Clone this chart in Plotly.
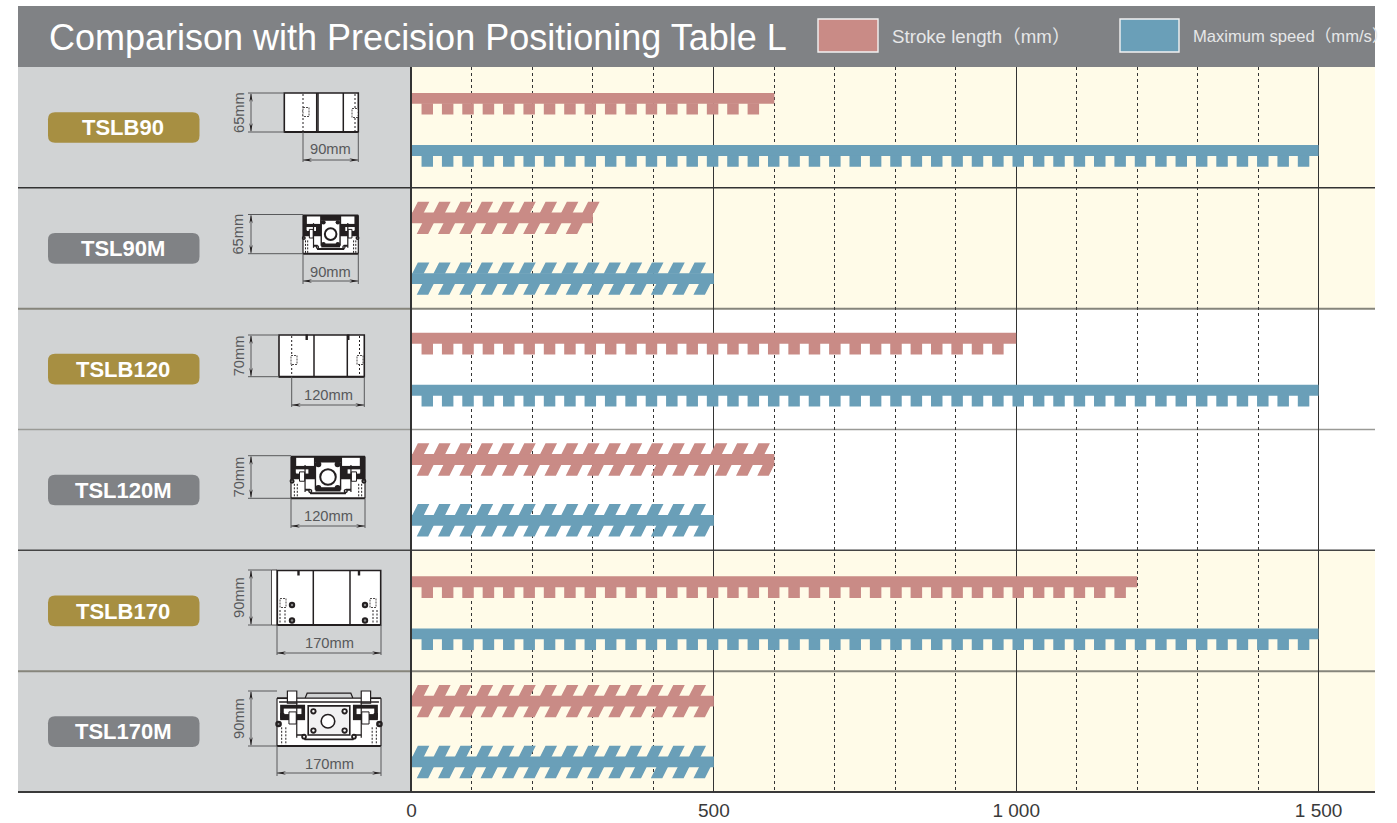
import plotly.graph_objects as go

# ---------- data ----------
models = ["TSLB90", "TSL90M", "TSLB120", "TSL120M", "TSLB170", "TSL170M"]
stroke_mm = [600, 300, 1000, 600, 1200, 500]
speed_mms = [1500, 500, 1500, 500, 1500, 500]
slanted = [False, True, False, True, False, True]
badge_colors = ["#A78F42", "#808285", "#A78F42", "#808285", "#A78F42", "#808285"]
tick_vals = [0, 500, 1000, 1500]
tick_text = ["0", "500", "1 000", "1 500"]
title = "Comparison with Precision Positioning Table L"
legend_stroke = "Stroke length（mm）"
legend_speed = "Maximum speed（mm/s）"

# ---------- page geometry ----------
W, H = 1397, 823
PLOT_L, PLOT_R, PLOT_T, PLOT_B = 411.5, 1375, 67, 792
PX_PER_UNIT = 0.6047
ROW_PX = (PLOT_B - PLOT_T) / 6
PINK, BLUE = "#C98B86", "#6A9FB8"
HEADER, PANEL = "#808285", "#D1D3D4"
CREAM = "#FFFBE8"
FONT = "Liberation Sans, Arial, Noto Sans CJK JP"
DIM = "#58595B"
INK = "#231F20"


def fx(x):
    return x / W


def fy(y):
    return 1 - y / H


shapes = []
annotations = []


def rect(x0, y0, x1, y1, fill="rgba(0,0,0,0)", line=None, w=1, dash=None, layer="below"):
    shapes.append(dict(type="rect", xref="paper", yref="paper", x0=fx(x0), x1=fx(x1), y0=fy(y0), y1=fy(y1),
                       fillcolor=fill, layer=layer,
                       line=dict(color=line or "rgba(0,0,0,0)", width=w if line else 0, dash=dash)))


def seg(x0, y0, x1, y1, color=INK, w=1, dash=None, layer="below"):
    shapes.append(dict(type="line", xref="paper", yref="paper", x0=fx(x0), x1=fx(x1), y0=fy(y0), y1=fy(y1),
                       layer=layer, line=dict(color=color, width=w, dash=dash)))


def poly(pts, fill="rgba(0,0,0,0)", line=None, w=1, close=True):
    p = "M" + " L".join(f"{fx(x):.5f},{fy(y):.5f}" for x, y in pts) + (" Z" if close else "")
    shapes.append(dict(type="path", xref="paper", yref="paper", path=p, fillcolor=fill, layer="below",
                       line=dict(color=line or "rgba(0,0,0,0)", width=w if line else 0)))


def circle(cx, cy, r, fill=INK, line=None, w=1):
    shapes.append(dict(type="circle", xref="paper", yref="paper", x0=fx(cx - r), x1=fx(cx + r),
                       y0=fy(cy - r), y1=fy(cy + r), fillcolor=fill, layer="below",
                       line=dict(color=line or "rgba(0,0,0,0)", width=w if line else 0)))


def text(x, y, s, size=14.7, color=DIM, bold=False, angle=0, anchor="center"):
    label = f"<b>{s}</b>" if bold else s
    annotations.append(dict(xref="paper", yref="paper", x=fx(x), y=fy(y), text=label, showarrow=False,
                            xanchor=anchor, yanchor="middle", textangle=angle,
                            font=dict(family=FONT, size=size, color=color)))


def rounded(x0, y0, x1, y1, r, fill):
    ax, ay = r / W, r / H
    X0, X1, Y0, Y1 = fx(x0), fx(x1), fy(y0), fy(y1)
    p = (f"M{X0 + ax},{Y0} L{X1 - ax},{Y0} Q{X1},{Y0} {X1},{Y0 - ay} L{X1},{Y1 + ay} Q{X1},{Y1} {X1 - ax},{Y1} "
         f"L{X0 + ax},{Y1} Q{X0},{Y1} {X0},{Y1 + ay} L{X0},{Y0 - ay} Q{X0},{Y0} {X0 + ax},{Y0} Z")
    shapes.append(dict(type="path", xref="paper", yref="paper", path=p, fillcolor=fill, layer="below",
                       line=dict(width=0)))


def dims(y0, y1, ext_x0, x1, left_to, h_label, w_label, text_y, arrow_y, ext_y):
    """Dimension lines round one cross-section."""
    seg(248, y0, left_to, y0, DIM, 1)
    seg(248, y1, left_to, y1, DIM, 1)
    seg(251, y0 + 1, 251, y1 - 1, DIM, 1)
    poly([(251, y0), (249.3, y0 + 9), (251, y0 + 6), (252.7, y0 + 9)], INK)
    poly([(251, y1), (249.3, y1 - 9), (251, y1 - 6), (252.7, y1 - 9)], INK)
    text(238.5, (y0 + y1) / 2, h_label, angle=-90)
    seg(ext_x0, y1, ext_x0, ext_y, DIM, 1)
    seg(x1, y1, x1, ext_y, DIM, 1)
    seg(ext_x0, arrow_y, x1, arrow_y, DIM, 1)
    poly([(ext_x0, arrow_y), (ext_x0 + 9, arrow_y - 1.7), (ext_x0 + 6, arrow_y), (ext_x0 + 9, arrow_y + 1.7)], INK)
    poly([(x1, arrow_y), (x1 - 9, arrow_y - 1.7), (x1 - 6, arrow_y), (x1 - 9, arrow_y + 1.7)], INK)
    text((ext_x0 + x1) / 2, text_y, w_label)


def side_view(x0, y0, x1, y1, lines, dashes, notches, bolts=(), holes=()):
    rect(x0, y0, x1, y1, "#FFFFFF", INK, 1.6)
    seg(x0, y1, x1, y1, INK, 2)
    for x in lines:
        seg(x, y0, x, y1, INK, 1.5)
    for x in dashes:
        seg(x, y0 + 1, x, y1 - 1, INK, 1, "2px,2px")
    for x in notches:
        rect(x - 1.2, y0 - 0.5, x + 1.2, y0 + 5, INK)
    for cx, cy in bolts:
        circle(cx, cy, 3.2, INK)
        circle(cx, cy, 1.2, "#8a8a8a")
    for cx, cy in holes:
        rect(cx - 3, cy - 4.5, cx + 3, cy + 4.5, "#FFFFFF", INK, 0.8, "2px,1px")


def cross_section(x0, y0, x1, y1, dense=False):
    """Moving-table style section; all parts proportional to the box."""
    bw, bh = x1 - x0, y1 - y0
    U = lambda u: x0 + u * bw
    V = lambda v: y0 + v * bh
    k = bw / 104
    top = 0.13 if not dense else 0.02
    rect(x0, V(top), x1, y1, "#FFFFFF", None)
    if dense:
        # heavy black table and guide block
        rect(x0, V(.0), x1, V(.56), INK)
        rect(U(.07), V(.05), U(.31), V(.24), "#FFFFFF")
        rect(U(.69), V(.05), U(.93), V(.24), "#FFFFFF")
        rect(U(.03), V(.56), U(.97), V(1), "#FFFFFF")
    else:
        poly([(U(.19), V(top)), (U(.27), V(top)), (U(.29), V(.04)), (U(.71), V(.04)), (U(.73), V(top)),
              (U(.81), V(top))], PANEL, INK, 1.2)
        for a, b in ((.10, .19), (.81, .90)):
            rect(U(a), V(0), U(b), V(.22), "#FFFFFF", INK, 1.2)
        seg(x0, V(top), U(.10), V(top), INK, 1.8)
        seg(U(.90), V(top), x1, V(top), INK, 1.8)
        seg(U(.02), V(.2), U(.98), V(.2), INK, 1.4)
    seg(x0, V(top), x0, y1, INK, 1.2)
    seg(x1, V(top), x1, y1, INK, 1.2)
    seg(x0, y1, x1, y1, INK, 2)
    # linear guides
    for a, b, flip in ((.03, .27, 1), (.73, .97, -1)):
        if not dense:
            rect(U(a), V(.25), U(b), V(.53), INK)
        m = (a + b) / 2
        rect(U(a + .035), V(.32), U(b - .035), V(.42), "#FFFFFF")
        rect(U(m - .035), V(.38), U(m + .035), V(.60), "#FFFFFF", INK, 1)
        rect(U(m - .10 * flip - .02), V(.40), U(m - .10 * flip + .02), V(.50), INK)
    # bracket below the table
    seg(U(.19), V(.22), U(.19), V(.85), INK, 1.2)
    seg(U(.81), V(.22), U(.81), V(.85), INK, 1.2)
    poly([(U(.19), V(.80)), (U(.25), V(.80)), (U(.27), V(.88)), (U(.73), V(.88)), (U(.75), V(.80)), (U(.81), V(.80))],
         None, INK, 2 if dense else 1.6, close=False)
    # centre plate and bore
    if dense:
        rect(U(.33), V(.16), U(.67), V(.80), "#FFFFFF")
        seg(U(.33), V(.16), U(.33), V(.80), INK, 1.4)
        seg(U(.67), V(.16), U(.67), V(.80), INK, 1.4)
        rect(U(.33), V(.74), U(.67), V(.84), INK)
        circle(U(.50), V(.50), 0.105 * bw, "#FFFFFF", INK, 2)
    else:
        rect(U(.30), V(.27), U(.70), V(.80), "#F1F1F2", INK, 1.6)
        circle(U(.49), V(.55), 6.2 * k + 0.6, "#FFFFFF", INK, 1.6)
    # plate screws
    r = 0.04 * bw if dense else 2.8 * k + 0.3
    pts = ((.37, .2), (.63, .2), (.37, .76), (.63, .76)) if dense else ((.35, .37), (.65, .37), (.35, .72), (.65, .72))
    for a, b in pts:
        circle(U(a), V(b), r, INK)
        if not dense:
            circle(U(a), V(b), r * .4, "#FFFFFF")
    # base screws
    for a, b in ((.26, .83), (.74, .83)):
        circle(U(a), V(b), 2.4 * k + 0.4, INK)
        circle(U(a), V(b), k, "#FFFFFF")
    for a, b in ((.015, .60), (.985, .60)):
        circle(U(a), V(b), 2.8 * k + 0.5, INK)
        circle(U(a), V(b), k, "#8a8a8a")
    # dashed bores
    for a in (.045, .085, .915, .955):
        seg(U(a), V(.66), U(a), V(.98), INK, 1, "2px,1.5px")


# ---------- panels ----------
rect(18, 6, 1375, PLOT_T, HEADER)
rect(18, PLOT_T, PLOT_L, PLOT_B, PANEL)
for i in range(6):
    top = PLOT_T + i * ROW_PX
    rect(PLOT_L, top, PLOT_R, top + ROW_PX, "#FFFFFF" if i in (2, 3) else CREAM)

rule_styles = [(1, "#333333", 1.5), (2, "#86857B", 2), (3, "#9A9A96", 1.5), (4, "#444444", 1.5), (5, "#86857B", 2)]
for i, color, w in rule_styles:
    y = PLOT_T + i * ROW_PX
    seg(18, y, PLOT_R, y, color, w)
seg(18, PLOT_B, PLOT_R, PLOT_B, "#3A3A3A", 2)

# ---------- header ----------
text(47, 38, title, size=36, color="#FFFFFF", anchor="left")
rect(818, 19, 878, 52, PINK, "#F2F2F2", 1.4)
text(890, 36.5, legend_stroke, size=18.7, color="#E6E7E8", anchor="left")
rect(1120, 19, 1179, 52, BLUE, "#F2F2F2", 1.4)
text(1191, 36.5, legend_speed, size=16.6, color="#E6E7E8", anchor="left")

# ---------- badges ----------
for i, (name, c) in enumerate(zip(models, badge_colors)):
    cy = PLOT_T + i * ROW_PX + 60.5
    rounded(48, cy - 15.3, 199.5, cy + 15.3, 7, c)
    text(123, cy + 0.3, name, size=22, color="#FFFFFF", bold=True)

# ---------- cross-section drawings ----------
side_view(284.3, 93, 358.3, 132, [316.7, 318, 343.3], [303, 355], [], holes=[(306, 112), (355, 113)])
dims(93, 132, 303, 358.3, 284.3, "65mm", "90mm", 149.5, 160, 162)

cross_section(303, 214.5, 358.3, 253.7, dense=True)
dims(214.5, 253.7, 303, 358.3, 303, "65mm", "90mm", 271.5, 281, 284)

side_view(279, 335, 364.3, 376.7, [314, 347.3], [291.7, 359.5], [306.7, 348.3], holes=[(294, 360), (360, 360)])
dims(335, 376.7, 291.7, 364.3, 279, "70mm", "120mm", 395, 405, 407)

cross_section(291, 455.7, 365, 498.3, dense=True)
dims(455.7, 498.3, 291, 365, 291, "70mm", "120mm", 516, 526, 528)

rect(271.5, 570, 277, 625, "#FFFFFF", INK, 0.8)
side_view(277.3, 570.5, 380.7, 625, [313.3, 350], [], [298.5, 359],
          bolts=[(292, 605), (292, 620.5), (365, 605), (365, 620.5)], holes=[(283, 603), (373, 603)])
seg(280, 610, 280, 624, INK, 1, "2px,1.5px")
seg(285, 610, 285, 624, INK, 1, "2px,1.5px")
seg(373, 610, 373, 624, INK, 1, "2px,1.5px")
seg(377, 610, 377, 624, INK, 1, "2px,1.5px")
dims(570, 625, 277, 381, 271.5, "90mm", "170mm", 643, 653, 655)

cross_section(277, 691, 381, 746)
dims(691, 746, 277, 381, 277, "90mm", "170mm", 764, 773, 776)

# ---------- marks ----------
# vertical placement of each band inside its row, in pixels from the row top
STROKE_OFFSET_PX = [31.4, 30.0, 29.6, 30.0, 31.4, 30.0]
SPEED_OFFSET_PX = [83.5, 90.8, 81.6, 90.8, 83.5, 90.8]
BAND = 10.8 / ROW_PX
TOOTH = 10.8 / ROW_PX
row_stroke = [i + o / ROW_PX for i, o in enumerate(STROKE_OFFSET_PX)]
row_speed = [i + o / ROW_PX for i, o in enumerate(SPEED_OFFSET_PX)]
OVERLAP = 0.6 / ROW_PX


def comb_teeth(value, center):
    """Square teeth hanging under a band (period/width in axis units)."""
    xs, ys = [], []
    period, width, start = 33.7, 19.0, 16.6
    top, bot = center + BAND / 2 - OVERLAP, center + BAND / 2 + TOOTH
    k = 0
    while start + k * period + width <= value:
        a = start + k * period
        xs += [a, a + width, a + width, a, a, None]
        ys += [top, top, bot, bot, top, None]
        k += 1
    return xs, ys


def slant_teeth(value, center):
    """Slanted teeth above and below a band."""
    xs, ys = [], []
    period, width, lean = 35.2, 19.0, 9.5
    up_base, up_tip = center - BAND / 2 + OVERLAP, center - BAND / 2 - TOOTH
    lo_tip, lo_base = center + BAND / 2 + TOOTH, center + BAND / 2 - OVERLAP
    k = 0
    while 1.0 + k * period + 18.2 <= value + 2:
        a = 1.0 + k * period
        xs += [a, a + width, a + width + lean, a + lean, a, None]
        ys += [up_base, up_base, up_tip, up_tip, up_base, None]
        k += 1
    k = 0
    while 8.6 + k * period + 18.2 + lean <= value + 2:
        a = 8.6 + k * period
        xs += [a, a + width, a + width + lean, a + lean, a, None]
        ys += [lo_tip, lo_tip, lo_base, lo_base, lo_tip, None]
        k += 1
    return xs, ys


fig = go.Figure()
fig.add_trace(go.Bar(name="Stroke length (mm)", orientation="h", x=stroke_mm, y=row_stroke, width=BAND,
                     marker=dict(color=PINK, line=dict(width=0)), hoverinfo="x+name"))
fig.add_trace(go.Bar(name="Maximum speed (mm/s)", orientation="h", x=speed_mms, y=row_speed, width=BAND,
                     marker=dict(color=BLUE, line=dict(width=0)), hoverinfo="x+name"))


def add_teeth(values, rows, color):
    xs, ys = [], []
    for v, r, s in zip(values, rows, slanted):
        a, b = (slant_teeth if s else comb_teeth)(v, r)
        xs += a
        ys += b
    fig.add_trace(go.Scatter(x=xs, y=ys, mode="lines", fill="toself", fillcolor=color,
                             line=dict(width=0, color=color), hoverinfo="skip"))


add_teeth(stroke_mm, row_stroke, PINK)
add_teeth(speed_mms, row_speed, BLUE)

fig.update_layout(
    width=W, height=H, autosize=False,
    margin=dict(l=0, r=0, t=0, b=0),
    paper_bgcolor="#FFFFFF", plot_bgcolor="rgba(0,0,0,0)",
    showlegend=False, barmode="overlay",
    font=dict(family=FONT),
    shapes=shapes, annotations=annotations,
    xaxis=dict(domain=[fx(PLOT_L), fx(PLOT_R)], range=[0, (PLOT_R - PLOT_L) / PX_PER_UNIT], automargin=False,
               tickmode="array", tickvals=tick_vals, ticktext=tick_text, ticks="outside", ticklen=1,
               tickcolor="rgba(0,0,0,0)", tickfont=dict(family=FONT, size=19, color="#3A3A3A"),
               showgrid=True, gridcolor="#333333", gridwidth=1, zeroline=False, showline=False,
               minor=dict(tick0=0, dtick=100, showgrid=True, gridcolor="#333333", gridwidth=1,
                          griddash="3px,3px", ticks="")),
    yaxis=dict(domain=[fy(PLOT_B), fy(PLOT_T)], range=[6, 0], automargin=False, showticklabels=False, ticks="",
               showgrid=False, zeroline=False, showline=True, linecolor="#333333", linewidth=2),
)

fig.write_html("out.html", config={"displayModeBar": False},
               post_script="document.body.style.margin='0';document.body.style.overflow='hidden';")
